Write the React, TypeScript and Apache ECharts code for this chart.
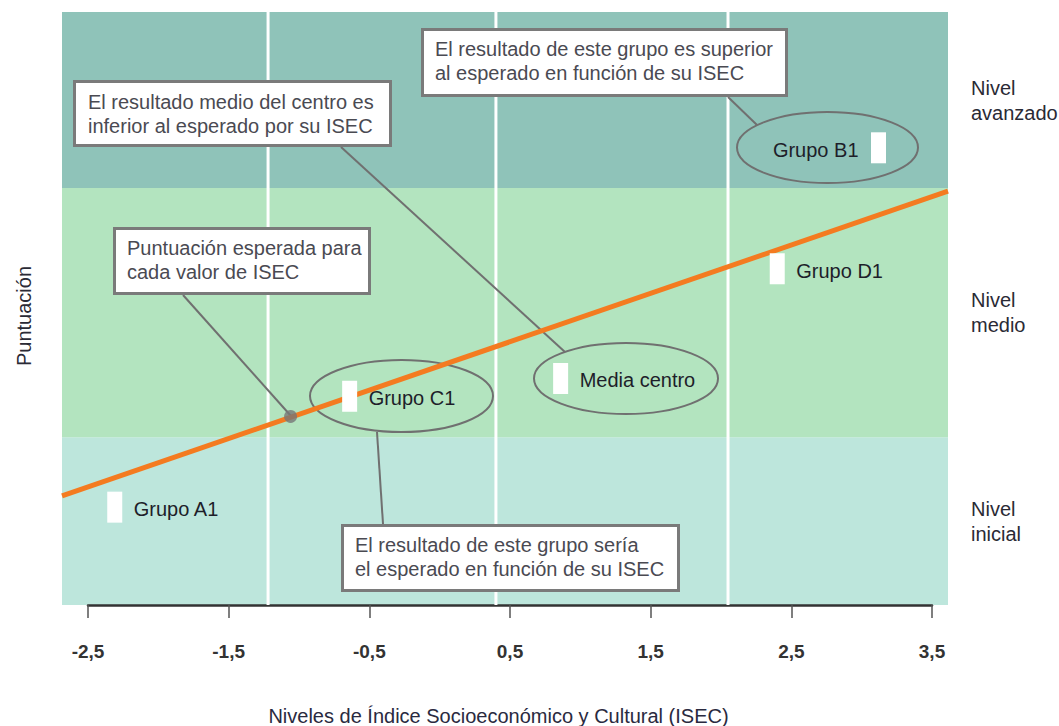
import { useEffect, useRef } from "react";
import * as echarts from "echarts";

// ---- Data ----
const isecTickLabels = ["-2,5", "-1,5", "-0,5", "0,5", "1,5", "2,5", "3,5"];
const levelNames = ["Nivel\ninicial", "Nivel\nmedio", "Nivel\navanzado"];
const levelFrom = [0, 28.3, 70.3];
const levelTo = [28.3, 70.3, 100];
const isecCutPoints = [-1.22, 0.4, 2.05];
const groupNames = ["Grupo A1", "Grupo C1", "Media centro", "Grupo D1", "Grupo B1"];
const groupIsec = [-2.31, -0.64, 0.86, 2.4, 3.12];
const groupScore = [16.5, 35.2, 38.2, 56.7, 77.1];
const expectedLineIsec = [-2.685, 3.614];
const expectedLineScore = [18.4, 69.8];
const highlightIsec = [-1.06];
const highlightScore = [31.8];

// ---- Styles ----
const FONT_FAMILY = '"Liberation Sans", Arial, sans-serif';
const FONT = `20px ${FONT_FAMILY}`;
const bandColors = ["#bde6dc", "#b3e4bf", "#8fc3b9"];
const groupLabelSide = ["right", "right", "right", "right", "left"];
const GRAY = "#707070";

const annotationBoxes = [
  { x: 74.5, y: 81.5, w: 316, h: 64, tx: 88, ty: 90, text: "El resultado medio del centro es\ninferior al esperado por su ISEC" },
  { x: 422.5, y: 29.5, w: 364, h: 66, tx: 435, ty: 37, text: "El resultado de este grupo es superior\nal esperado en función de su ISEC" },
  { x: 114.5, y: 228.5, w: 255, h: 65, tx: 127, ty: 236, text: "Puntuación esperada para\ncada valor de ISEC" },
  { x: 342.5, y: 525.5, w: 336, h: 65, tx: 355, ty: 533, text: "El resultado de este grupo sería\nel esperado en función de su ISEC" },
];
const calloutLines = [
  [341, 147, 565, 352],
  [728, 97, 757, 125],
  [183, 295, 291, 416],
  [377, 432, 383, 524],
];
const ellipses = [
  [401.5, 396, 91.5, 36],
  [626, 378.5, 92, 35.5],
  [827.5, 147.5, 90.5, 35.5],
];

function buildOption() {
  const graphics: any[] = [];
  calloutLines.forEach(([x1, y1, x2, y2]) =>
    graphics.push({ type: "line", z: 2, shape: { x1, y1, x2, y2 }, style: { stroke: GRAY, lineWidth: 2 } })
  );
  ellipses.forEach(([cx, cy, rx, ry]) =>
    graphics.push({ type: "ellipse", z: 2, shape: { cx, cy, rx, ry }, style: { stroke: GRAY, lineWidth: 2, fill: "transparent" } })
  );
  annotationBoxes.forEach((b) => {
    graphics.push({ type: "rect", z: 2, shape: { x: b.x, y: b.y, width: b.w, height: b.h }, style: { fill: "#fff", stroke: "#7a7a7a", lineWidth: 3 } });
    graphics.push({ type: "text", z: 2, x: b.tx, y: b.ty, style: { text: b.text, font: FONT, fill: "#4a4a52", lineHeight: 24, verticalAlign: "top", align: "left" } });
  });
  graphics.push({
    type: "text", z: 2, x: 23.5, y: 316, rotation: Math.PI / 2,
    style: { text: "Puntuación", font: FONT, fill: "#2a2a35", align: "center", verticalAlign: "middle" },
  });
  graphics.push({
    type: "text", z: 2, x: 498.5, y: 716,
    style: { text: "Niveles de Índice Socioeconómico y Cultural (ISEC)", font: FONT, fill: "#2a2a40", align: "center", verticalAlign: "middle" },
  });

  return {
    animation: false,
    backgroundColor: "#ffffff",
    grid: [
      { left: 62, top: 12, width: 886, height: 593 },
      { left: 88, top: 12, width: 844, height: 593 },
    ],
    xAxis: [
      { gridIndex: 0, type: "value", min: -2.685, max: 3.614, show: false },
      {
        gridIndex: 1, type: "value", min: 0, max: 6, interval: 1, offset: 15,
        axisLine: { show: true, lineStyle: { color: "#333", width: 2.5 } },
        axisTick: { show: true, length: 13, lineStyle: { color: "#555", width: 1.5 } },
        axisLabel: {
          margin: 22, color: "#333", fontWeight: "bold", fontSize: 19, fontFamily: FONT_FAMILY,
          formatter: (v: number) => isecTickLabels[Math.round(v)] ?? "",
        },
        splitLine: { show: false },
      },
    ],
    yAxis: [
      { gridIndex: 0, type: "value", min: 0, max: 100, show: false },
      { gridIndex: 1, type: "value", min: 0, max: 100, show: false },
    ],
    graphic: { elements: graphics },
    series: [
      {
        type: "custom", xAxisIndex: 0, yAxisIndex: 0, z: 0, silent: true, clip: false,
        data: levelFrom.map((f, i) => [0, f, levelTo[i]]),
        renderItem: (params: any, api: any) => {
          const cs = params.coordSys;
          const i = params.dataIndex;
          const yTop = api.coord([0, levelTo[i]])[1];
          const yBot = api.coord([0, levelFrom[i]])[1];
          return {
            type: "group",
            children: [
              { type: "rect", shape: { x: cs.x, y: yTop, width: cs.width, height: yBot - yTop }, style: { fill: bandColors[i] } },
              {
                type: "text", x: cs.x + cs.width + 23, y: (yTop + yBot) / 2,
                style: { text: levelNames[i], font: FONT, fill: "#2a2a35", align: "left", verticalAlign: "middle", lineHeight: 25 },
              },
            ],
          };
        },
      },
      {
        type: "custom", xAxisIndex: 0, yAxisIndex: 0, z: 1, silent: true,
        data: isecCutPoints.map((v) => [v, 0]),
        renderItem: (params: any, api: any) => {
          const cs = params.coordSys;
          const x = api.coord([api.value(0), 0])[0];
          return { type: "line", shape: { x1: x, y1: cs.y, x2: x, y2: cs.y + cs.height }, style: { stroke: "#ffffff", lineWidth: 3 } };
        },
      },
      {
        type: "line", xAxisIndex: 0, yAxisIndex: 0, z: 3, symbol: "none", silent: true,
        data: expectedLineIsec.map((x, i) => [x, expectedLineScore[i]]),
        lineStyle: { color: "#f47b20", width: 5 },
      },
      {
        type: "scatter", xAxisIndex: 0, yAxisIndex: 0, z: 4, silent: true,
        data: highlightIsec.map((x, i) => [x, highlightScore[i]]),
        symbolSize: 13, itemStyle: { color: "#777777" },
      },
      {
        type: "custom", xAxisIndex: 0, yAxisIndex: 0, z: 5, silent: true,
        data: groupIsec.map((x, i) => [x, groupScore[i]]),
        renderItem: (params: any, api: any) => {
          const p = api.coord([api.value(0), api.value(1)]);
          const i = params.dataIndex;
          const left = groupLabelSide[i] === "left";
          return {
            type: "group",
            children: [
              { type: "rect", shape: { x: p[0] - 7.5, y: p[1] - 15.5, width: 15, height: 31 }, style: { fill: "#ffffff" } },
              {
                type: "text", x: left ? p[0] - 20 : p[0] + 19, y: p[1] + 2,
                style: { text: groupNames[i], font: FONT, fill: "#1e1e2a", align: left ? "right" : "left", verticalAlign: "middle" },
              },
            ],
          };
        },
      },
    ],
  };
}

export default function App() {
  const ref = useRef<HTMLDivElement>(null);
  useEffect(() => {
    if (!ref.current) return;
    const chart = echarts.init(ref.current, null, { renderer: "svg" });
    chart.setOption(buildOption() as any);
    return () => chart.dispose();
  }, []);
  return (
    <div
      ref={ref}
      style={{ position: "fixed", left: 0, top: 0, width: 1059, height: 726, background: "#ffffff" }}
    />
  );
}
